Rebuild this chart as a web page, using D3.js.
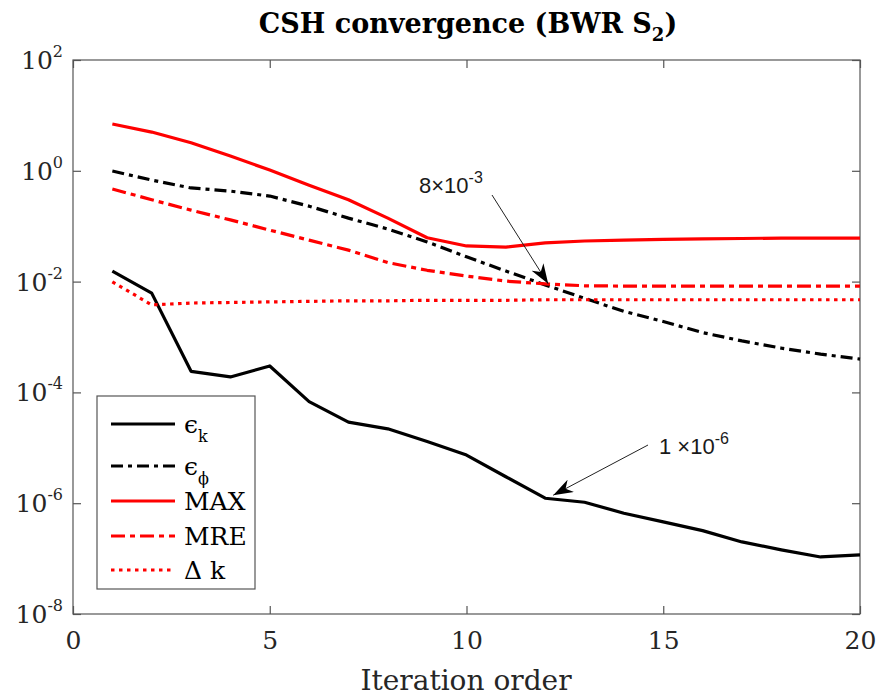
<!DOCTYPE html>
<html>
<head>
<meta charset="utf-8">
<script src="https://cdn.jsdelivr.net/npm/d3@7"></script>
<style>
  html, body { margin: 0; padding: 0; background: #fff; }
  svg { display: block; }
</style>
</head>
<body>
<svg id="chart" width="878" height="698"></svg>
<script>
// ---- data ----
const iterations = [1,2,3,4,5,6,7,8,9,10,11,12,13,14,15,16,17,18,19,20];
const epsK   = [0.0155,0.0062,2.4e-4,1.9e-4,3.0e-4,6.8e-5,2.9e-5,2.2e-5,1.3e-5,7.4e-6,3.0e-6,1.23e-6,1.04e-6,6.6e-7,4.6e-7,3.2e-7,2.0e-7,1.44e-7,1.07e-7,1.17e-7];
const epsPhi = [0.99,0.68,0.49,0.43,0.35,0.23,0.14,0.089,0.052,0.028,0.0155,0.0087,0.005,0.0029,0.0019,0.0012,8.5e-4,6.3e-4,4.9e-4,4.0e-4];
const maxErr = [7.0,5.0,3.2,1.85,1.03,0.55,0.30,0.14,0.062,0.044,0.042,0.050,0.054,0.056,0.058,0.059,0.060,0.061,0.061,0.061];
const mreErr = [0.47,0.30,0.195,0.13,0.085,0.056,0.037,0.022,0.016,0.0126,0.0102,0.0091,0.0084,0.0083,0.0083,0.0083,0.0083,0.0083,0.0083,0.0083];
const deltaK = [0.0099,0.0038,0.0041,0.0042,0.0043,0.0044,0.0045,0.0045,0.0046,0.0046,0.0046,0.0047,0.0047,0.0047,0.0047,0.0047,0.0047,0.0047,0.0047,0.0047];
const xTicks = [0,5,10,15,20];
const yTickExps = [2,0,-2,-4,-6,-8];
const titleText = "CSH convergence (BWR S";
const titleSub = "2";
const xLabel = "Iteration order";

const series = [
  {name: "ϵ", sub: "k",  values: epsK,   color: "#000000", dash: null},
  {name: "ϵ", sub: "ϕ", values: epsPhi, color: "#000000", dash: "12,5,4,5"},
  {name: "MAX", sub: "", values: maxErr, color: "#ff0000", dash: null},
  {name: "MRE", sub: "", values: mreErr, color: "#ff0000", dash: "14,5,5,5"},
  {name: "Δ k", sub: "", values: deltaK, color: "#ff0000", dash: "3.5,4.5"}
];

// ---- layout ----
const svg = d3.select("#chart");
const L = 73, R = 860, T = 60, B = 614;
const serif = "'DejaVu Serif', serif";
const sans = "'Liberation Sans', Arial, sans-serif";

const x = d3.scaleLinear().domain([0,20]).range([L,R]);
const y = d3.scaleLog().domain([1e-8,1e2]).range([B,T]);

const axisColor = "#555";

// box
svg.append("rect").attr("x",L).attr("y",T).attr("width",R-L).attr("height",B-T)
  .attr("fill","none").attr("stroke",axisColor).attr("stroke-width",1.2);

// axes via d3 (ticks inward)
const yVals = yTickExps.map(e => Math.pow(10,e));
const gxB = svg.append("g").attr("transform",`translate(0,${B})`)
  .call(d3.axisBottom(x).tickValues(xTicks).tickSizeInner(-8).tickSizeOuter(0).tickPadding(14).tickFormat(d3.format("d")));
const gxT = svg.append("g").attr("transform",`translate(0,${T})`)
  .call(d3.axisTop(x).tickValues(xTicks).tickSizeInner(-8).tickSizeOuter(0).tickFormat(""));
const gyL = svg.append("g").attr("transform",`translate(${L},0)`)
  .call(d3.axisLeft(y).tickValues(yVals).tickSizeInner(-8).tickSizeOuter(0).tickFormat(""));
const gyR = svg.append("g").attr("transform",`translate(${R},0)`)
  .call(d3.axisRight(y).tickValues(yVals).tickSizeInner(-8).tickSizeOuter(0).tickFormat(""));
[gxB,gxT,gyL,gyR].forEach(g => {
  g.select(".domain").remove();
  g.selectAll(".tick line").attr("stroke",axisColor).attr("stroke-width",1.2);
});
gxB.selectAll(".tick text").attr("font-family",serif).attr("font-size",25).attr("fill","#262626").attr("dy","0.85em");

// y tick labels with superscripts
yTickExps.forEach(e => {
  const t = svg.append("text").attr("x",63).attr("y",y(Math.pow(10,e))+9)
    .attr("text-anchor","end").attr("font-family",serif).attr("font-size",25).attr("fill","#262626");
  t.append("tspan").text("10");
  t.append("tspan").attr("dy",-12).attr("font-size",16).text(String(e));
});

// lines
const line = d3.line().x((d,i) => x(iterations[i])).y(d => y(d));
series.forEach(s => {
  svg.append("path").datum(s.values)
    .attr("d", line).attr("fill","none").attr("stroke",s.color)
    .attr("stroke-width",3.2).attr("stroke-linejoin","round")
    .attr("stroke-dasharray", s.dash);
});

// annotations
const defs = svg.append("defs");
defs.append("marker").attr("id","arrow").attr("viewBox","0 0 20 14").attr("refX",20).attr("refY",7)
  .attr("markerWidth",20).attr("markerHeight",14).attr("markerUnits","userSpaceOnUse").attr("orient","auto")
  .append("path").attr("d","M0,0 L20,7 L0,14 L6,7 Z").attr("fill","#000");

function annotate(tx, ty, parts, x1, y1, x2, y2) {
  const t = svg.append("text").attr("x",tx).attr("y",ty).attr("font-family",sans).attr("font-size",22).attr("fill","#1a1a1a");
  t.append("tspan").text(parts[0]);
  t.append("tspan").attr("dy",-10).attr("font-size",16).text(parts[1]);
  svg.append("line").attr("x1",x1).attr("y1",y1).attr("x2",x2).attr("y2",y2)
    .attr("stroke","#222").attr("stroke-width",1).attr("marker-end","url(#arrow)");
}
annotate(419, 193, ["8×10", "-3"], 492, 195, x(12)+3, y(mreErr[11]));
annotate(659, 454, ["1 ×10", "-6"], 648, 445, x(12)+8, y(epsK[11])-3);

// legend
const lg = svg.append("g");
lg.append("rect").attr("x",97).attr("y",396).attr("width",158).attr("height",193)
  .attr("fill","#fff").attr("stroke",axisColor).attr("stroke-width",1.2);
const rowsY = [424, 466, 501, 536, 570];
series.forEach((s,i) => {
  const yy = rowsY[i];
  lg.append("line").attr("x1",111).attr("x2",175).attr("y1",yy).attr("y2",yy)
    .attr("stroke",s.color).attr("stroke-width",3.2).attr("stroke-dasharray",s.dash);
  const t = lg.append("text").attr("x",184).attr("y",yy+9).attr("font-family",serif).attr("font-size",25).attr("fill","#000");
  t.append("tspan").text(s.name);
  if (s.sub) t.append("tspan").attr("dy",9).attr("font-size",16).text(s.sub);
});

// title
const tt = svg.append("text").attr("x",468).attr("y",33).attr("text-anchor","middle")
  .attr("font-family",serif).attr("font-weight","bold").attr("font-size",27).attr("fill","#000");
tt.append("tspan").text(titleText);
tt.append("tspan").attr("dy",8).attr("font-size",18).text(titleSub);
tt.append("tspan").attr("dy",-8).text(")");

// x label
svg.append("text").attr("x",466).attr("y",690).attr("text-anchor","middle")
  .attr("font-family",serif).attr("font-size",28).attr("fill","#262626").text(xLabel);
</script>
</body>
</html>
